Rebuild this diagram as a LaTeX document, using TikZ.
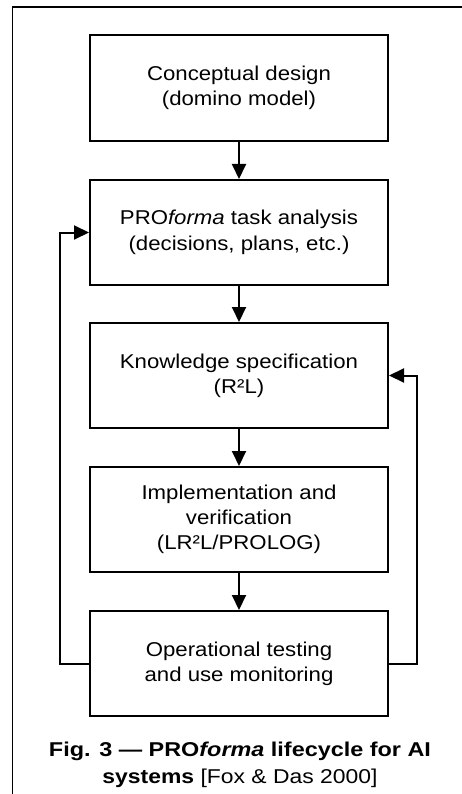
\documentclass[tikz,border=0pt]{standalone}
\usepackage{fontspec}
\usepackage{graphicx}
\setmainfont{Liberation Sans}
\usetikzlibrary{arrows.meta}
\newcommand{\stagetext}[1]{\scalebox{1.11}[1]{\fontsize{20}{25}\selectfont\begin{tabular}{@{}c@{}}#1\end{tabular}}}
\begin{document}
\begin{tikzpicture}[x=1pt,y=-1pt,
  stagebox/.style={draw, line width=2pt, minimum width=298pt, inner sep=0pt, align=center},
  flow/.style={line width=2pt, -{Triangle[width=14pt,length=15pt]}},
  frameline/.style={line width=1.6pt}]
\useasboundingbox (0,0) rectangle (462,794);
\draw[frameline] (462,7) -- (12.5,7) -- (12.5,794);
\node[stagebox, minimum height=106pt] (b1) at (239,88) {\stagetext{Conceptual design\\(domino model)}};
\node[stagebox, minimum height=105pt] (b2) at (239,232.5) {\stagetext{PRO\textit{forma} task analysis\\(decisions, plans, etc.)}};
\node[stagebox, minimum height=105pt] (b3) at (239,375.5) {\stagetext{Knowledge specification\\(R²L)}};
\node[stagebox, minimum height=105pt] (b4) at (239,519.5) {\stagetext{Implementation and\\verification\\(LR²L/PROLOG)}};
\node[stagebox, minimum height=105pt] (b5) at (239,663.5) {\stagetext{Operational testing\\and use monitoring}};
\node[inner sep=0pt] (cap) at (240,765)
  {\fontsize{20}{27}\selectfont\begin{tabular}{@{}c@{}}%
   \resizebox{382pt}{\height}{\bfseries Fig. 3 — PRO\textit{forma} lifecycle for AI}\\
   \resizebox{275pt}{\height}{\textbf{systems} [Fox \& Das 2000]}%
   \end{tabular}};
\draw[flow] (b1) -- (b2);
\draw[flow] (b2) -- (b3);
\draw[flow] (b3) -- (b4);
\draw[flow] (b4) -- (b5);
\draw[flow] (b5.west) -- ++(-29,0) |- (b2.west);
\draw[flow] (b5.east) -- ++(28,0) |- (b3.east);
\end{tikzpicture}
\end{document}
